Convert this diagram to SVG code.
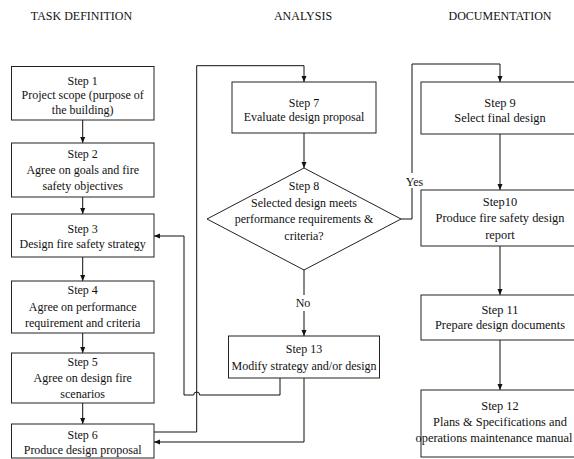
<svg xmlns="http://www.w3.org/2000/svg" width="574" height="459" viewBox="0 0 574 459" font-family="'Liberation Serif', 'Times New Roman', serif">
<style>
text{font-family:'Liberation Serif','Times New Roman',serif;font-size:12px;fill:#111;text-anchor:middle}
.r text{font-size:12.4px}
.box{fill:#fff;stroke:#222;stroke-width:1}
.c{fill:none;stroke:#111;stroke-width:1}
.a{marker-end:url(#arr)}
</style>
<defs>
<marker id="arr" markerWidth="6" markerHeight="6" refX="6" refY="3" orient="auto" markerUnits="userSpaceOnUse"><path d="M0,0.5 L6,3 L0,5.5 z" fill="#111"/></marker>
</defs>
<rect width="574" height="459" fill="#fff"/>
<g id="headings">
<text x="81.5" y="20">TASK DEFINITION</text>
<text x="303" y="20">ANALYSIS</text>
<text x="500" y="20">DOCUMENTATION</text>
</g>
<g id="connectors">
<path class="c a" d="M82.7,120 V143"/>
<path class="c a" d="M82.7,197 V214"/>
<path class="c a" d="M82.7,257 V281"/>
<path class="c a" d="M82.7,333 V353"/>
<path class="c a" d="M82.7,403 V424"/>
<path class="c a" d="M154,432 H196.7 V65.7 H304 V82"/>
<path class="c a" d="M304,133 V168"/>
<path class="c" d="M304,270 V295"/>
<path class="c a" d="M304,311 V336"/>
<path class="c" d="M401,219 H412 V188"/>
<path class="c a" d="M412,173 V64 H500 V82"/>
<path class="c a" d="M500,134 V190"/>
<path class="c a" d="M500,246 V295"/>
<path class="c a" d="M500,340 V390"/>
<path class="c a" d="M280,378 V395 H199.7 A3,3 0 0 0 193.7,395 H184 V236 H154"/>
<path class="c a" d="M304,378 V442 H154"/>
<text x="303" y="307">No</text>
<text x="414.5" y="186">Yes</text>
</g>
<g id="step1"><rect class="box" x="11.5" y="66.5" width="142.5" height="53.5"/><text x="82.7" y="84.5">Step 1</text><text x="82.7" y="99">Project scope (purpose of</text><text x="82.7" y="113.5">the building)</text></g>
<g id="step2"><rect class="box" x="11.5" y="143" width="142.5" height="54"/><text x="82.7" y="157.5">Step 2</text><text x="82.7" y="173.5">Agree on goals and fire</text><text x="82.7" y="190">safety objectives</text></g>
<g id="step3"><rect class="box" x="11.5" y="214" width="142.5" height="43"/><text x="82.7" y="233">Step 3</text><text x="82.7" y="248">Design fire safety strategy</text></g>
<g id="step4"><rect class="box" x="11.5" y="281" width="142.5" height="52"/><text x="82.7" y="294">Step 4</text><text x="82.7" y="311">Agree on performance</text><text x="82.7" y="327">requirement and criteria</text></g>
<g id="step5"><rect class="box" x="11.5" y="353" width="142.5" height="50"/><text x="82.7" y="366">Step 5</text><text x="82.7" y="382">Agree on design fire</text><text x="82.7" y="398">scenarios</text></g>
<g id="step6"><rect class="box" x="11.5" y="424" width="142.5" height="34"/><text x="82.7" y="438.5">Step 6</text><text x="82.7" y="454">Produce design proposal</text></g>
<g id="step7"><rect class="box" x="232" y="82" width="144" height="51"/><text x="304" y="106.5">Step 7</text><text x="304" y="120.5">Evaluate design proposal</text></g>
<g id="step8"><path class="box" d="M304,168 L401,219 L304,270 L207,219 Z"/><text x="304" y="190">Step 8</text><text x="304" y="206.5">Selected design meets</text><text x="304" y="223">performance requirements &amp;</text><text x="304" y="240">criteria?</text></g>
<g id="step13"><rect class="box" x="228.5" y="336" width="151" height="42"/><text x="304" y="353">Step 13</text><text x="304" y="370">Modify strategy and/or design</text></g>
<g class="r">
<g id="step9"><rect class="box" x="421" y="82" width="158" height="52"/><text x="500" y="106.5">Step 9</text><text x="500" y="121.5">Select final design</text></g>
<g id="step10"><rect class="box" x="421" y="190" width="158" height="56"/><text x="500" y="206">Step10</text><text x="500" y="222">Produce fire safety design</text><text x="500" y="239">report</text></g>
<g id="step11"><rect class="box" x="421" y="295" width="158" height="45"/><text x="500" y="314">Step 11</text><text x="500" y="329">Prepare design documents</text></g>
<g id="step12"><rect class="box" x="421" y="390" width="158" height="67"/><text x="500" y="410">Step 12</text><text x="500" y="426">Plans &amp; Specifications and</text><text x="494" y="442">operations maintenance manual</text></g>
</g>
</svg>
